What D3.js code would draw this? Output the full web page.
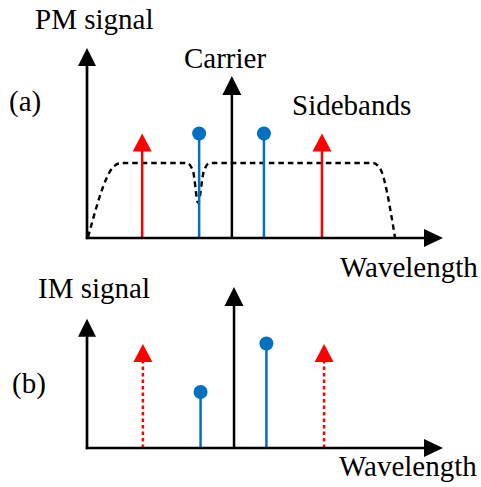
<!DOCTYPE html>
<html>
<head>
<meta charset="utf-8">
<script src="https://cdn.jsdelivr.net/npm/d3@7"></script>
<style>
  html, body { margin: 0; padding: 0; background: white; }
  text { font-family: "Liberation Serif", "Times New Roman", serif; fill: black; }
</style>
</head>
<body>
<script>
// ---- data (wavelength / amplitude in arbitrary units) ----
const axisLenX = 10;
const axisLenA = 10;      // PM panel y-axis length
const axisLenB = 6.8;     // IM panel y-axis length

// PM signal
const carrierA = { x: 4.07, y: 8.53 };
const sidebandsA = [ { x: 1.55, y: 5.5 }, { x: 6.6, y: 5.5 } ];
const firstOrderA = [ { x: 3.15, y: 5.5 }, { x: 4.97, y: 5.5 } ];
const filterX = [0.03, 0.72, 0.95, 2.81, 2.98, 3.12, 3.28, 3.45, 3.6, 8.03, 8.22, 8.65];
const filterY = [0.05, 3.7, 3.95, 3.95, 3.5, 1.85, 3.5, 3.95, 3.95, 3.95, 3.7, 0.05];

// IM signal
const carrierB = { x: 4.13, y: 8.47 };
const sidebandsB = [ { x: 1.57, y: 5.47 }, { x: 6.66, y: 5.47 } ];
const firstOrderB = [ { x: 3.19, y: 2.95 }, { x: 5.04, y: 5.5 } ];

const labels = {
    a: { panel: "(a)", y: "PM signal", x: "Wavelength" },
    b: { panel: "(b)", y: "IM signal", x: "Wavelength" }
};

const red = "#ff0000", blue = "#0070c0";

const svg = d3.select("body")
    .append("svg")
    .attr("width", 481)
    .attr("height", 487);

const x = d3.scaleLinear().domain([0, axisLenX]).range([87, 443]);
const yA = d3.scaleLinear().domain([0, 10]).range([238, 48]);
const yB = d3.scaleLinear().domain([0, 10]).range([448, 258]);

// draws a line with a triangular head at (x2,y2)
const arrow = (x1, y1, x2, y2, color, width, headLen, headW, dash) => {
    const dx = x2 - x1, dy = y2 - y1;
    const len = Math.sqrt(dx * dx + dy * dy);
    const ux = dx / len, uy = dy / len;
    const bx = x2 - ux * headLen, by = y2 - uy * headLen;
    svg.append("line")
        .attr("x1", x1).attr("y1", y1)
        .attr("x2", bx + ux * 1).attr("y2", by + uy * 1)
        .attr("stroke", color)
        .attr("stroke-width", width)
        .attr("stroke-dasharray", dash || null);
    svg.append("path")
        .attr("d", `M${x2},${y2} L${bx - uy * headW / 2},${by + ux * headW / 2} L${bx + uy * headW / 2},${by - ux * headW / 2} Z`)
        .attr("fill", color);
};

const stem = (px, y0, yTop, r) => {
    svg.append("line")
        .attr("x1", px).attr("y1", y0)
        .attr("x2", px).attr("y2", yTop)
        .attr("stroke", blue)
        .attr("stroke-width", 2.5);
    svg.append("circle")
        .attr("cx", px).attr("cy", yTop)
        .attr("r", r)
        .attr("fill", blue);
};

const drawPanel = (y, yLen, carrier, sidebands, firstOrder, sbDash, lab, pos) => {
    sidebands.forEach(d => arrow(x(d.x), y(0), x(d.x), y(d.y), red, 2.5, 18, 19, sbDash));
    firstOrder.forEach(d => stem(x(d.x), y(0), y(d.y), 7));
    arrow(x(carrier.x), y(0) + 1, x(carrier.x), y(carrier.y), "black", 2.5, 19, 19);

    // axes
    arrow(x(0) - 1.2, y(0), x(axisLenX), y(0), "black", 2.7, 19, 18);
    arrow(x(0), y(0) + 1.2, x(0), y(yLen), "black", 2.7, 18, 18);

    svg.append("text").attr("x", pos.px).attr("y", pos.py).attr("font-size", "29px").text(lab.panel);
    svg.append("text").attr("x", pos.yx).attr("y", pos.yy).attr("font-size", "29px").text(lab.y);
    svg.append("text").attr("x", pos.xx).attr("y", pos.xy).attr("font-size", "29px").text(lab.x);
};

// filter response (dashed)
const line = d3.line()
    .x(d => x(d[0]))
    .y(d => yA(d[1]))
    .curve(d3.curveMonotoneX);

svg.append("path")
    .attr("d", line(d3.zip(filterX, filterY)))
    .attr("fill", "none")
    .attr("stroke", "black")
    .attr("stroke-width", 2.4)
    .attr("stroke-dasharray", "5.5,4");

drawPanel(yA, axisLenA, carrierA, sidebandsA, firstOrderA, null, labels.a,
    { px: 9, py: 111, yx: 35, yy: 29, xx: 340, xy: 277 });
drawPanel(yB, axisLenB, carrierB, sidebandsB, firstOrderB, "3.5,3", labels.b,
    { px: 12, py: 393, yx: 38, yy: 298, xx: 339, xy: 476 });

svg.append("text").attr("x", 184).attr("y", 68).attr("font-size", "29px").text("Carrier");
svg.append("text").attr("x", 292).attr("y", 115).attr("font-size", "29px").text("Sidebands");
</script>
</body>
</html>
